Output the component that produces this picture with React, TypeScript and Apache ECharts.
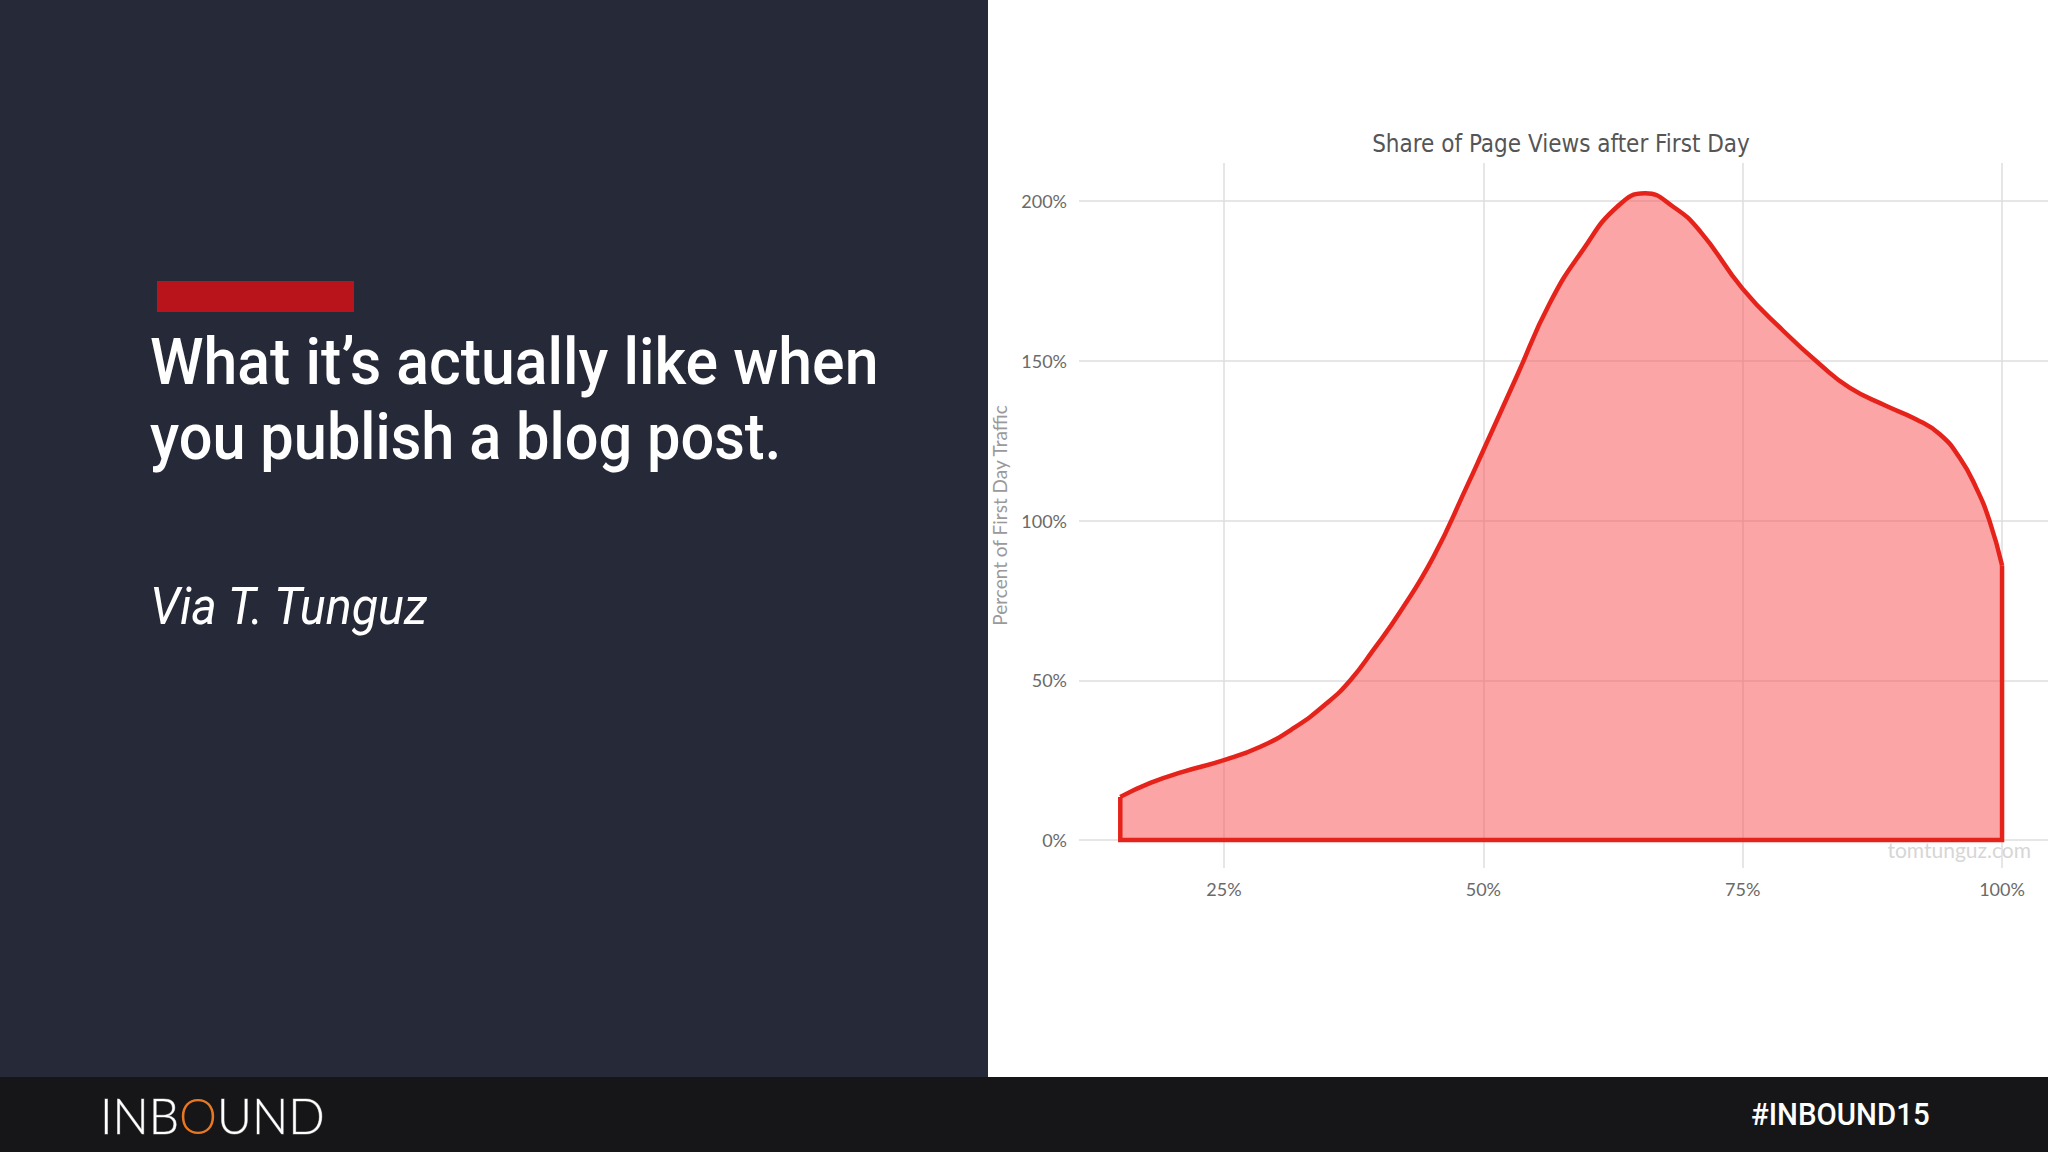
import React, { useEffect, useRef } from "react";
import * as echarts from "echarts";

// Curve of share of page views (x: % of posts timeline, y: % of first day traffic)
const curveX = [15, 17.9, 21.1, 25, 28.5, 31.7, 34.9, 37.2, 39.4, 42, 45.2, 48.4, 50, 53.2, 56.4, 59.6, 62.9, 65.6, 68.3, 70.9, 75, 78.9, 82.4, 85.3, 88.8, 91.7, 94, 95.9, 97.5, 98.8, 100];
const curveY = [13.5, 17.9, 21.4, 25, 29.2, 35, 42.8, 50.1, 59.5, 71.5, 88.7, 110.6, 122, 145, 168, 184.7, 198.2, 202.4, 198.2, 190.5, 172.5, 159.4, 149, 141.6, 135.9, 131.7, 127, 119.7, 110.3, 99.8, 86];
// closing edges of the filled density shape
const edgeX = [15, 15, 100, 100];
const edgeY = [13.5, 0, 0, 86];

const xTicks = [25, 50, 75, 100];
const yTicks = [0, 50, 100, 150, 200];

const chartTitle = "Share of Page Views after First Day";
const yAxisName = "Percent of First Day Traffic";
const headline1 = "What it’s actually like when";
const headline2 = "you publish a blog post.";
const credit = "Via T. Tunguz";
const watermark = "tomtunguz.com";
const hashtag = "#INBOUND15";

const HEAD = "Roboto, 'Noto Sans', sans-serif";
const LIGHT = "Lato, 'Open Sans', sans-serif";

export default function App() {
  const ref = useRef<HTMLDivElement>(null);
  useEffect(() => {
    const chart = echarts.init(ref.current!, null, { renderer: "svg" });
    const lineColor = "#e6231a";
    const gridLine = { show: true, lineStyle: { color: "#dedede", width: 1.5 } };
    chart.setOption({
      animation: false,
      backgroundColor: "#ffffff",
      grid: { left: 1079, right: 0, top: 163, bottom: 284, containLabel: false },
      xAxis: {
        type: "value",
        min: 11.02,
        max: 104.43,
        axisLine: { show: false },
        axisTick: { show: false, customValues: xTicks },
        axisLabel: {
          customValues: xTicks,
          formatter: (v: number) => v + "%",
          color: "#6a6a6a",
          fontSize: 18,
          fontFamily: LIGHT,
          margin: 12,
        },
        splitLine: gridLine,
      },
      yAxis: {
        type: "value",
        min: -8.76,
        max: 211.9,
        name: yAxisName,
        nameLocation: "middle",
        nameGap: 70,
        nameRotate: 90,
        nameTextStyle: { color: "#9a9a9a", fontSize: 19, fontFamily: LIGHT },
        axisLine: { show: false },
        axisTick: { show: false, customValues: yTicks },
        axisLabel: {
          customValues: yTicks,
          formatter: (v: number) => v + "%",
          color: "#6a6a6a",
          fontSize: 18,
          fontFamily: LIGHT,
          margin: 12,
        },
        splitLine: gridLine,
      },
      series: [
        {
          type: "line",
          data: curveX.map((x, i) => [x, curveY[i]]),
          smooth: 0.5,
          showSymbol: false,
          lineStyle: { color: lineColor, width: 4.5 },
          areaStyle: { color: "rgba(250,82,86,0.52)", opacity: 1 },
          z: 3,
        },
        {
          type: "line",
          data: edgeX.map((x, i) => [x, edgeY[i]]),
          showSymbol: false,
          lineStyle: { color: lineColor, width: 4.5, join: "miter" },
          z: 4,
        },
      ],
      graphic: [
        { type: "rect", silent: true, z: -10, shape: { x: 0, y: 0, width: 988, height: 1077 }, style: { fill: "#262a38" } },
        { type: "rect", silent: true, z: -10, shape: { x: 0, y: 1077, width: 2048, height: 75 }, style: { fill: "#161618" } },
        { type: "rect", silent: true, z: 1, shape: { x: 157, y: 281, width: 197, height: 31 }, style: { fill: "#b9141b" } },
        {
          type: "text", z: 5, x: 150, y: 362, scaleX: 0.95,
          style: { text: headline1, fill: "#ffffff", fontSize: 64, fontWeight: 500, fontFamily: HEAD, verticalAlign: "middle", textAlign: "left" },
        },
        {
          type: "text", z: 5, x: 150, y: 437, scaleX: 0.93,
          style: { text: headline2, fill: "#ffffff", fontSize: 64, fontWeight: 500, fontFamily: HEAD, verticalAlign: "middle", textAlign: "left" },
        },
        {
          type: "text", z: 5, x: 150, y: 607, scaleX: 0.95,
          style: { text: credit, fill: "#ffffff", fontSize: 51, fontStyle: "italic", fontFamily: HEAD, verticalAlign: "middle", textAlign: "left" },
        },
        {
          type: "text", z: 5, x: 1561, y: 144,
          style: { text: chartTitle, fill: "#555555", fontSize: 24, fontFamily: "'DejaVu Sans Condensed', 'Noto Sans', sans-serif", verticalAlign: "middle", textAlign: "center" },
        },
        {
          type: "text", z: 6, x: 2031, y: 849,
          style: { text: watermark, fill: "#d6d6d6", fontSize: 21, fontFamily: LIGHT, verticalAlign: "middle", textAlign: "right" },
        },
        {
          type: "text", z: 5, x: 100, y: 1115, scaleX: 0.96,
          style: {
            text: "{a|INB}{o|O}{a|UND}",
            verticalAlign: "middle",
            textAlign: "left",
            rich: {
              a: { fill: "#ffffff", fontSize: 50, fontFamily: LIGHT, fontWeight: 300, stroke: "#777", lineWidth: 1 },
              o: { fill: "#e87722", fontSize: 50, fontFamily: LIGHT, fontWeight: 300 },
            },
          },
        },
        {
          type: "text", z: 5, x: 1751, y: 1114, scaleX: 0.92,
          style: { text: hashtag, fill: "#ffffff", fontSize: 32, fontFamily: HEAD, fontWeight: 500, verticalAlign: "middle", textAlign: "left" },
        },
      ],
    });
    return () => chart.dispose();
  }, []);
  return <div ref={ref} style={{ position: "fixed", left: 0, top: 0, width: 2048, height: 1152 }} />;
}
